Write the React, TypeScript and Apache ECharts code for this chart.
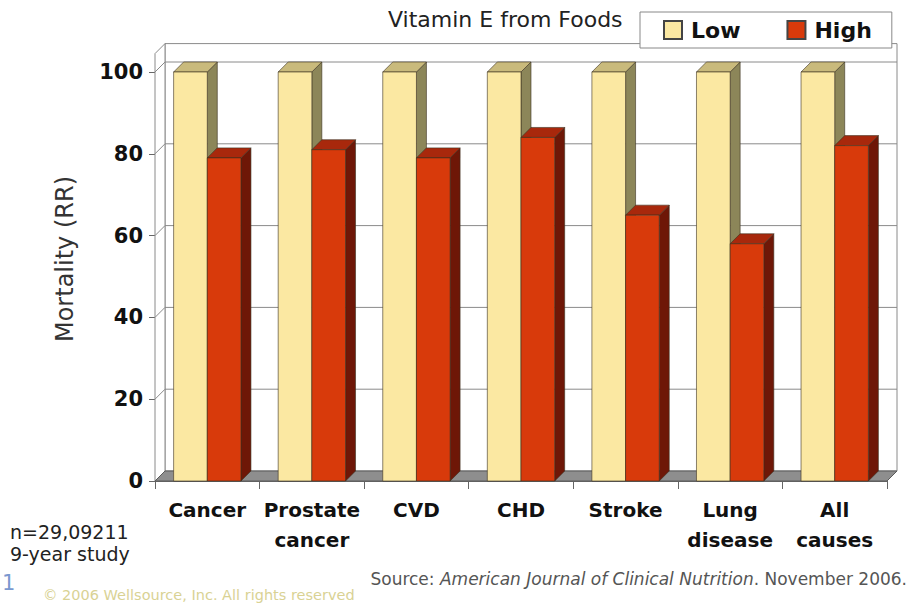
import React, { useEffect, useRef } from "react";
import * as echarts from "echarts";

const categories = ["Cancer", "Prostate\ncancer", "CVD", "CHD", "Stroke", "Lung\ndisease", "All\ncauses"];
const lowValues = [100, 100, 100, 100, 100, 100, 100];
const highValues = [79, 81, 79, 84, 65, 58, 82];
const yTicks = [0, 20, 40, 60, 80, 100];
const seriesNames = ["Low", "High"];

const WALL_TOP = 104.5;
const DX = 10;
const DY = -10;
const FONT = "'DejaVu Sans', sans-serif";

const palettes: Record<string, { front: string; side: string; top: string }> = {
  Low: { front: "#FBE8A2", side: "#8C8659", top: "#C9BA7C" },
  High: { front: "#D83A0B", side: "#6E1707", top: "#A8280C" },
};

function barRenderer(kind: string) {
  return (params: any, api: any) => {
    const cat = api.value(0);
    const v = api.value(1);
    const base = api.coord([cat, 0]);
    const top = api.coord([cat, v]);
    const band = api.size([1, 0])[0];
    const w = band * 0.322;
    const x0 = kind === "Low" ? base[0] - w : base[0];
    const x1 = x0 + w;
    const yt = top[1];
    const yb = base[1];
    const pal = palettes[kind];
    const stroke = "#3a3020";
    return {
      type: "group",
      children: [
        {
          type: "polygon",
          shape: { points: [[x1, yt], [x1 + DX, yt + DY], [x1 + DX, yb + DY], [x1, yb]] },
          style: { fill: pal.side, stroke, lineWidth: 0.6 },
        },
        {
          type: "polygon",
          shape: { points: [[x0, yt], [x0 + DX, yt + DY], [x1 + DX, yt + DY], [x1, yt]] },
          style: { fill: pal.top, stroke, lineWidth: 0.6 },
        },
        {
          type: "rect",
          shape: { x: x0, y: yt, width: w, height: yb - yt },
          style: { fill: pal.front, stroke, lineWidth: 0.6 },
        },
      ],
    };
  };
}

function wallRenderer(params: any, api: any) {
  const cs = params.coordSys;
  const gx = cs.x;
  const gw = cs.width;
  const y0 = api.coord([0, 0])[1];
  const yTop = api.coord([0, WALL_TOP])[1];
  const line = "#8a8a8a";
  const children: any[] = [
    {
      type: "polygon",
      shape: { points: [[gx + DX, yTop + DY], [gx + gw + DX, yTop + DY], [gx + gw + DX, y0 + DY], [gx + DX, y0 + DY]] },
      style: { fill: "#ffffff", stroke: line, lineWidth: 1 },
    },
    {
      type: "polygon",
      shape: { points: [[gx, yTop], [gx + DX, yTop + DY], [gx + DX, y0 + DY], [gx, y0]] },
      style: { fill: "#ffffff", stroke: line, lineWidth: 1 },
    },
  ];
  yTicks.forEach((t) => {
    if (t === 0) return;
    const y = api.coord([0, t])[1];
    children.push({
      type: "polyline",
      shape: { points: [[gx, y], [gx + DX, y + DY], [gx + gw + DX, y + DY]] },
      style: { stroke: line, lineWidth: 1, fill: null },
    });
  });
  children.push({
    type: "polygon",
    shape: { points: [[gx, y0], [gx + DX, y0 + DY], [gx + gw + DX, y0 + DY], [gx + gw, y0]] },
    style: { fill: "#8e8e8e", stroke: "#5a5a5a", lineWidth: 1 },
  });
  return { type: "group", children };
}

export default function App() {
  const ref = useRef<HTMLDivElement>(null);
  useEffect(() => {
    if (!ref.current) return;
    const chart = echarts.init(ref.current, null, { renderer: "svg" });
    const option: any = {
      animation: false,
      backgroundColor: "#ffffff",
      title: {
        text: "Vitamin E from Foods",
        left: 388,
        top: 8,
        padding: 0,
        textStyle: { fontFamily: FONT, fontWeight: "normal", fontSize: 22, color: "#222" },
      },
      legend: {
        data: seriesNames,
        left: 640,
        top: 12,
        orient: "horizontal",
        icon: "rect",
        itemWidth: 18,
        itemHeight: 18,
        itemGap: 46,
        padding: [7, 20, 7, 23],
        backgroundColor: "#ffffff",
        borderColor: "#888",
        borderWidth: 1,
        textStyle: { fontFamily: FONT, fontWeight: "bold", fontSize: 22, color: "#111", padding: [0, 0, 0, 4] },
      },
      grid: { left: 155, right: 22, top: 72, bottom: 126, containLabel: false },
      xAxis: {
        type: "category",
        data: categories,
        boundaryGap: true,
        axisLine: { show: true, lineStyle: { color: "#666" } },
        axisTick: { show: true, length: 8, interval: 0, lineStyle: { color: "#666" } },
        axisLabel: {
          interval: 0,
          margin: 14,
          fontFamily: FONT,
          fontWeight: "bold",
          fontSize: 20,
          lineHeight: 30,
          color: "#111",
        },
        splitLine: { show: false },
      },
      yAxis: {
        type: "value",
        min: 0,
        max: 100,
        interval: 20,
        axisLine: { show: false },
        axisTick: { show: true, length: 6, lineStyle: { color: "#666" } },
        axisLabel: { margin: 12, fontFamily: FONT, fontWeight: "bold", fontSize: 21, color: "#111" },
        splitLine: { show: false },
      },
      series: [
        {
          type: "custom",
          name: "walls",
          renderItem: wallRenderer,
          data: [[0, 0]],
          clip: false,
          silent: true,
          z: 1,
        },
        {
          type: "custom",
          name: seriesNames[0],
          renderItem: barRenderer("Low"),
          data: lowValues.map((v, i) => [i, v]),
          clip: false,
          itemStyle: { color: palettes.Low.front, borderColor: "#444", borderWidth: 1 },
          z: 2,
        },
        {
          type: "custom",
          name: seriesNames[1],
          renderItem: barRenderer("High"),
          data: highValues.map((v, i) => [i, v]),
          clip: false,
          itemStyle: { color: palettes.High.front, borderColor: "#444", borderWidth: 1 },
          z: 2,
        },
      ],
      graphic: [
        {
          type: "text",
          x: 65,
          y: 259,
          rotation: Math.PI / 2,
          style: { text: "Mortality (RR)", align: "center", verticalAlign: "middle", font: `24px ${FONT}`, fill: "#333" },
        },
        {
          type: "text",
          x: 10,
          y: 532,
          style: { text: "n=29,09211", align: "left", verticalAlign: "middle", font: `19px ${FONT}`, fill: "#222" },
        },
        {
          type: "text",
          x: 10,
          y: 554,
          style: { text: "9-year study", align: "left", verticalAlign: "middle", font: `19px ${FONT}`, fill: "#222" },
        },
        {
          type: "text",
          x: 2,
          y: 583,
          style: { text: "1", align: "left", verticalAlign: "middle", font: `21px ${FONT}`, fill: "#7a98cf" },
        },
        {
          type: "text",
          x: 43,
          y: 595,
          style: {
            text: "© 2006 Wellsource, Inc. All rights reserved",
            align: "left",
            verticalAlign: "middle",
            font: `14.5px ${FONT}`,
            fill: "#d9d294",
          },
        },
        {
          type: "text",
          x: 907,
          y: 579,
          style: {
            text: "{n|Source: }{i|American Journal of Clinical Nutrition}{n|. November 2006.}",
            align: "right",
            verticalAlign: "middle",
            rich: {
              n: { fontSize: 17, fontFamily: FONT, fill: "#555" },
              i: { fontSize: 17, fontFamily: FONT, fontStyle: "italic", fill: "#555" },
            },
          },
        },
      ],
    };
    chart.setOption(option);
    return () => chart.dispose();
  }, []);
  return <div ref={ref} style={{ position: "fixed", left: 0, top: 0, width: 909, height: 607 }} />;
}
